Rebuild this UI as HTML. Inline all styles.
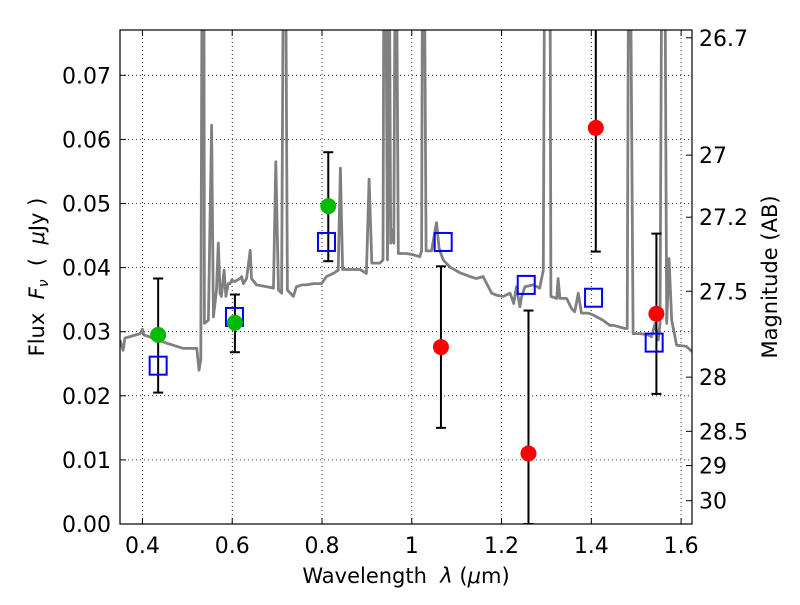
<!DOCTYPE html>
<html><head><meta charset="utf-8"><style>
body{margin:0;background:#fff;}
svg text{font-family:"DejaVu Sans","Liberation Sans",sans-serif;}
</style></head><body>
<svg id="c" width="800" height="600" viewBox="0 0 800 600">
<defs><clipPath id="clip"><rect x="120" y="30" width="572" height="494"/></clipPath></defs>
<g id="grid"></g>
<g id="plot" clip-path="url(#clip)"></g>
<rect x="120" y="30" width="572" height="494" fill="none" stroke="#000" stroke-width="1.2"/>
<g id="axes"></g>
<text x="406" y="583" font-size="21" text-anchor="middle" xml:space="preserve">Wavelength  <tspan font-style="italic">λ</tspan> (<tspan font-style="italic">μ</tspan>m)</text>
<text transform="translate(44,277) rotate(-90)" font-size="21" text-anchor="middle" xml:space="preserve">Flux  <tspan font-style="italic">F</tspan><tspan font-style="italic" font-size="14" dy="4">ν</tspan><tspan dy="-4">  (  </tspan><tspan font-style="italic">μ</tspan>Jy )</text>
<text transform="translate(777,277) rotate(-90)" font-size="21" text-anchor="middle">Magnitude (AB)</text>
</svg>
<script>
const xTicks=[0.4,0.6,0.8,1.0,1.2,1.4,1.6];
const xTickLabels=["0.4","0.6","0.8","1","1.2","1.4","1.6"];
const yTicks=[0,0.01,0.02,0.03,0.04,0.05,0.06,0.07];
const yTickLabels=["0.00","0.01","0.02","0.03","0.04","0.05","0.06","0.07"];
const magTicks=[26.7,27,27.2,27.5,28,28.5,29,30];
const magTickLabels=["26.7","27","27.2","27.5","28","28.5","29","30"];
const specX=[0.350,0.357,0.361,0.395,0.400,0.403,0.424,0.454,0.491,0.521,0.526,0.530,0.533,0.537,0.538,0.547,0.554,0.558,0.565,0.569,0.573,0.576,0.582,0.586,0.591,0.595,0.599,0.606,0.617,0.621,0.625,0.632,0.640,0.643,0.654,0.677,0.692,0.697,0.703,0.710,0.714,0.719,0.723,0.736,0.743,0.755,0.766,0.781,0.799,0.810,0.825,0.836,0.841,0.846,0.862,0.885,0.899,0.905,0.911,0.929,0.936,0.938,0.942,0.946,0.950,0.953,0.957,0.960,0.963,0.966,0.970,0.974,0.988,1.003,1.018,1.022,1.024,1.028,1.032,1.044,1.055,1.061,1.070,1.085,1.107,1.130,1.144,1.159,1.178,1.189,1.204,1.219,1.227,1.233,1.241,1.245,1.252,1.271,1.285,1.293,1.296,1.308,1.310,1.323,1.326,1.330,1.345,1.356,1.363,1.371,1.378,1.393,1.404,1.426,1.441,1.449,1.475,1.480,1.483,1.487,1.493,1.508,1.527,1.534,1.542,1.549,1.553,1.557,1.564,1.568,1.573,1.579,1.590,1.612,1.624];
const specY=[0.0287,0.0271,0.0290,0.0297,0.0304,0.0295,0.0290,0.0282,0.0274,0.0274,0.0240,0.0256,0.09,0.09,0.0313,0.0318,0.0622,0.0323,0.0365,0.0438,0.0360,0.0355,0.0396,0.0355,0.0375,0.0375,0.0381,0.0378,0.0383,0.0386,0.0375,0.0383,0.0427,0.0383,0.0373,0.0370,0.0368,0.0565,0.0365,0.0360,0.09,0.09,0.0365,0.0355,0.0370,0.0373,0.0373,0.0375,0.0375,0.0386,0.0391,0.0396,0.0555,0.0397,0.0397,0.0397,0.0391,0.0538,0.0407,0.0407,0.0412,0.09,0.09,0.0412,0.09,0.0438,0.0459,0.0438,0.09,0.09,0.0422,0.0422,0.0422,0.0420,0.0417,0.0426,0.09,0.09,0.0426,0.0426,0.0470,0.0430,0.0412,0.0401,0.0392,0.0386,0.0383,0.0386,0.0360,0.0357,0.0355,0.0360,0.0344,0.0370,0.0339,0.0355,0.0370,0.0373,0.0368,0.0396,0.09,0.09,0.0355,0.0352,0.0383,0.0352,0.0352,0.0336,0.0331,0.0360,0.0329,0.0329,0.0326,0.0318,0.0310,0.0310,0.0305,0.0305,0.09,0.09,0.0297,0.0297,0.0295,0.0292,0.0313,0.0287,0.0313,0.09,0.09,0.0313,0.0414,0.0318,0.0279,0.0277,0.0269,0.0267];
const greenX=[0.435,0.606,0.814];
const greenY=[0.0295,0.0314,0.0496];
const greenLo=[0.0205,0.0268,0.0410];
const greenHi=[0.0383,0.0358,0.0580];
const redX=[1.065,1.260,1.410,1.545];
const redY=[0.0276,0.0110,0.0618,0.0328];
const redLo=[0.0150,0.0,0.0425,0.0203];
const redHi=[0.0402,0.0333,0.0900,0.0453];
const blueX=[0.435,0.605,0.810,1.070,1.255,1.405,1.540];
const blueY=[0.0247,0.0323,0.0440,0.0440,0.0373,0.0353,0.0283];

const NS="http://www.w3.org/2000/svg";
const X0=120,X1=692,Y0=524,Y1=30,xmin=0.35,xmax=1.6243,ymax=(524-30)/6410;
const sx=v=>X0+(v-xmin)/(xmax-xmin)*(X1-X0);
const sy=v=>Y0-v/ymax*(Y0-Y1);
const magToFlux=m=>Math.pow(10,(23.9-m)/2.5);
function mk(tag,attrs,parent){const e=document.createElementNS(NS,tag);for(const k in attrs)e.setAttribute(k,attrs[k]);parent.appendChild(e);return e;}
const grid=document.getElementById('grid'),plot=document.getElementById('plot'),axes=document.getElementById('axes');

xTicks.forEach((t,i)=>{const x=sx(t);
 const g=mk('line',{x1:x,x2:x,y1:Y1,y2:Y0,stroke:'#000','stroke-width':0.8,'stroke-dasharray':'1,3'},grid);
 
 
 mk('line',{x1:x,x2:x,y1:Y0,y2:Y0-6,stroke:'#000'},axes);
 mk('line',{x1:x,x2:x,y1:Y1,y2:Y1+6,stroke:'#000'},axes);
 const tx=mk('text',{x:x,y:Y0+29,'font-size':22,'text-anchor':'middle'},axes);
 tx.textContent=xTickLabels[i];
 
 
});
yTicks.forEach((t,i)=>{const y=sy(t);
 if(i>0){const g=mk('line',{x1:X0,x2:X1,y1:y,y2:y,stroke:'#000','stroke-width':0.8,'stroke-dasharray':'1,3'},grid);
 
 }
 mk('line',{x1:X0,x2:X0+6,y1:y,y2:y,stroke:'#000'},axes);
 const tx=mk('text',{x:X0-9,y:y+8,'font-size':22,'text-anchor':'end'},axes);
 tx.textContent=yTickLabels[i];
 
 
});
magTicks.forEach((m,i)=>{const y=sy(magToFlux(m));
 mk('line',{x1:X1,x2:X1-6,y1:y,y2:y,stroke:'#000'},axes);
 const tx=mk('text',{x:X1+7,y:y+8,'font-size':22},axes);
 tx.textContent=magTickLabels[i];
 
 
});
const pts=specX.map((x,i)=>sx(x).toFixed(1)+','+sy(specY[i]).toFixed(1)).join(' ');
const sp=mk('polyline',{points:pts,fill:'none',stroke:'#808080','stroke-width':2.8,'stroke-linejoin':'round'},plot);


function err(x,lo,hi){const px=sx(x);
 const g=mk('g',{},plot);
 
 
 mk('line',{x1:px,x2:px,y1:sy(lo),y2:sy(hi),stroke:'#000','stroke-width':2},g);
 mk('line',{x1:px-5,x2:px+5,y1:sy(lo),y2:sy(lo),stroke:'#000','stroke-width':2},g);
 mk('line',{x1:px-5,x2:px+5,y1:sy(hi),y2:sy(hi),stroke:'#000','stroke-width':2},g);}
greenX.forEach((x,i)=>err(x,greenLo[i],greenHi[i]));
redX.forEach((x,i)=>err(x,redLo[i],redHi[i]));
blueX.forEach((x,i)=>{const r=mk('rect',{x:sx(x)-8.5,y:sy(blueY[i])-9,width:17,height:18,fill:'none',stroke:'#0000ff','stroke-width':2},plot);
 
 });
greenX.forEach((x,i)=>{const c=mk('circle',{cx:sx(x),cy:sy(greenY[i]),r:8,fill:'#00bb00'},plot);
 
 });
redX.forEach((x,i)=>{const c=mk('circle',{cx:sx(x),cy:sy(redY[i]),r:8,fill:'#ff0000'},plot);
 
 });
</script>
</body></html>
